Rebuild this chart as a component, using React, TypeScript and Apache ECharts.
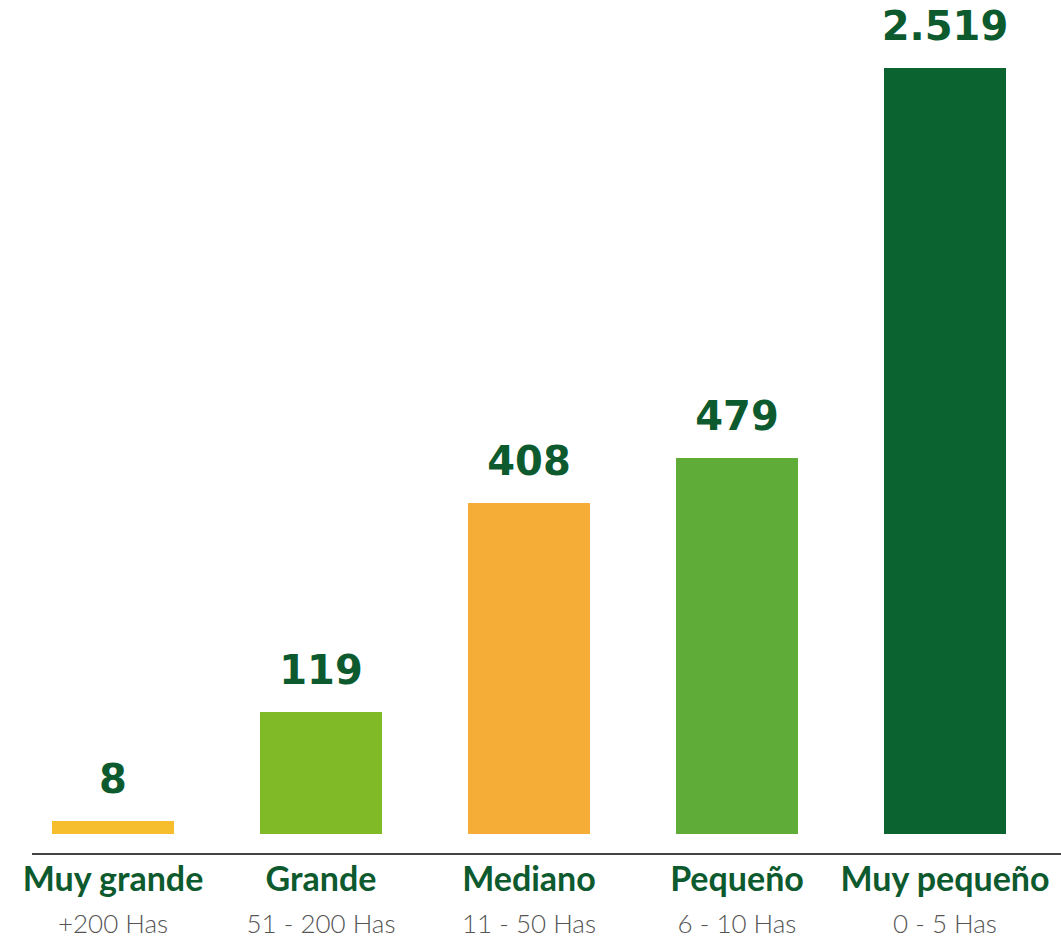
import React, { useEffect, useRef } from "react";
import * as echarts from "echarts";

const categories = ["Muy grande", "Grande", "Mediano", "Pequeño", "Muy pequeño"];
const ranges = ["+200 Has", "51 - 200 Has", "11 - 50 Has", "6 - 10 Has", "0 - 5 Has"];
const values = [8, 119, 408, 479, 2519];
const valueLabels = ["8", "119", "408", "479", "2.519"];
// stylised (non-linear) bar lengths as drawn in the infographic
const barHeights = [13, 122, 331, 376, 766];
const barColors = ["#F6BE2C", "#80BA27", "#F5AD38", "#5FAD38", "#0B6430"];

export default function App() {
  const ref = useRef<HTMLDivElement>(null);
  useEffect(() => {
    if (!ref.current) return;
    const chart = echarts.init(ref.current, undefined, { renderer: "svg" });
    chart.setOption({
      animation: false,
      backgroundColor: "#ffffff",
      grid: { left: 9, right: 12, top: 68, bottom: 107, containLabel: false },
      xAxis: [
        {
          type: "category",
          data: categories,
          position: "bottom",
          axisLine: { show: false },
          axisTick: { show: false },
          axisLabel: {
            interval: 0,
            margin: 23,
            fontFamily: "Lato",
            fontWeight: 700,
            fontSize: 34,
            lineHeight: 40,
            color: "#0C5A2E",
          },
        },
        {
          type: "category",
          data: ranges,
          position: "bottom",
          axisLine: { show: false },
          axisTick: { show: false },
          axisLabel: {
            interval: 0,
            margin: 76,
            fontFamily: "Lato",
            fontWeight: 300,
            fontSize: 26,
            lineHeight: 26,
            color: "#555555",
          },
        },
      ],
      yAxis: { type: "value", min: 0, max: 766, show: false, splitLine: { show: false } },
      series: [
        {
          type: "bar",
          xAxisIndex: 0,
          barWidth: 122,
          data: barHeights.map((h, i) => ({
            value: h,
            realValue: values[i],
            itemStyle: { color: barColors[i] },
          })),
          label: {
            show: true,
            position: "top",
            distance: 22,
            formatter: (p: any) => valueLabels[p.dataIndex],
            fontFamily: "DejaVu Sans",
            fontWeight: "bold",
            fontSize: 40,
            color: "#0C5A2E",
          },
        },
      ],
      graphic: [
        {
          type: "line",
          shape: { x1: 32, y1: 854, x2: 1061, y2: 854 },
          style: { stroke: "#444444", lineWidth: 2 },
        },
      ],
    });
    return () => chart.dispose();
  }, []);
  return (
    <div
      ref={ref}
      style={{ position: "fixed", left: 0, top: 0, width: 1061, height: 941 }}
    />
  );
}
